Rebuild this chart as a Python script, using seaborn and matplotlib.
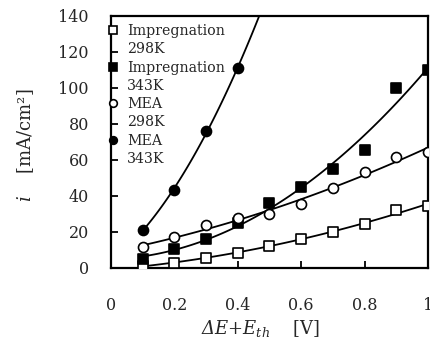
import numpy as np
import pandas as pd
import matplotlib
matplotlib.use('Agg')
import matplotlib.pyplot as plt
import seaborn as sns

# data
x_all = [0.1, 0.2, 0.3, 0.4, 0.5, 0.6, 0.7, 0.8, 0.9, 1.0]
imp_298 = [1.0, 2.8, 5.6, 8.0, 12.1, 16.0, 20.0, 24.2, 32.1, 34.4]
imp_343 = [4.7, 10.2, 16.0, 24.7, 35.9, 44.8, 54.8, 65.5, 100.0, 110.0]
mea_298 = [11.4, 17.0, 23.8, 27.5, 29.7, 35.5, 44.2, 53.5, 61.8, 64.6]
x_mea343 = [0.1, 0.2, 0.3, 0.4]
mea_343 = [21.0, 43.0, 76.0, 111.0]

series_names = ['Impregnation', 'Impregnation', 'MEA', 'MEA']
temps = ['298K', '343K', '298K', '343K']

xticks = [0, 0.2, 0.4, 0.6, 0.8, 1]
xtick_labels = ['0', '0.2', '0.4', '0.6', '0.8', '1']
yticks = [0, 20, 40, 60, 80, 100, 120, 140]

sns.set_style('ticks')
plt.rcParams['font.family'] = ['DejaVu Serif']
# greek capitals go to the rm font in mathtext, so make it italic as well
plt.rcParams['mathtext.fontset'] = 'custom'
plt.rcParams['mathtext.rm'] = 'DejaVu Serif:italic'
plt.rcParams['mathtext.it'] = 'DejaVu Serif:italic'

fig = plt.figure(figsize=(4.31, 3.47), dpi=100)
ax = fig.add_axes([0.2575, 0.2285, 0.7355, 0.7255])

data = [
    (x_all, imp_298, 's', 'white', 1.0),
    (x_all, imp_343, 's', 'black', 1.0),
    (x_all, mea_298, 'o', 'white', 1.0),
    (x_mea343, mea_343, 'o', 'black', 0.5),
]

handles = []
for (xs, ys, mk, fc, xend), name in zip(data, series_names):
    # quadratic fit curve
    coef = np.polyfit(xs, ys, 2)
    xf = np.linspace(min(xs), xend, 100)
    fit = pd.DataFrame({'x': xf, 'y': np.polyval(coef, xf)})
    sns.lineplot(data=fit, x='x', y='y', ax=ax, color='black', lw=1.3,
                 sort=False, legend=False)
    df = pd.DataFrame({'x': xs, 'y': ys})
    sns.scatterplot(data=df, x='x', y='y', ax=ax, marker=mk, s=52,
                    facecolor=fc, edgecolor='black', linewidth=1.2,
                    zorder=3, legend=False)
    h = plt.Line2D([], [], ls='none', marker=mk, markersize=5.5,
                   markerfacecolor=fc, markeredgecolor='black', markeredgewidth=1.2)
    handles.append(h)

# legend: name line with marker, then temperature line without marker
leg_h, leg_l = [], []
for h, name, t in zip(handles, series_names, temps):
    leg_h += [h, plt.Line2D([], [], ls='none')]
    leg_l += [name, t]
ax.legend(leg_h, leg_l, loc='upper left', bbox_to_anchor=(-0.008, 0.968),
          frameon=False, fontsize=10.2, handlelength=0.6, handletextpad=0.7,
          labelspacing=0.3, borderpad=0, borderaxespad=0)

ax.set_xlim(0, 1)
ax.set_ylim(0, 140)
ax.set_xticks(xticks)
ax.set_xticklabels(xtick_labels)
ax.set_yticks(yticks)
ax.tick_params(direction='in', length=5, width=1.3, labelsize=11.5, color='black')
ax.tick_params(axis='x', pad=21)
ax.tick_params(axis='y', pad=16)
for sp in ax.spines.values():
    sp.set_visible(True)
    sp.set_linewidth(1.6)
    sp.set_color('black')

ax.set_xlabel(r'$ΔE$+$E_{th}$    [V]', fontsize=13, labelpad=4)
ax.xaxis.set_label_coords(0.47, -0.2)
ax.set_ylabel(r'$i$    [mA/cm²]', fontsize=13)
ax.yaxis.set_label_coords(-0.235, 0.485)

fig.savefig('out.png', dpi=100)
